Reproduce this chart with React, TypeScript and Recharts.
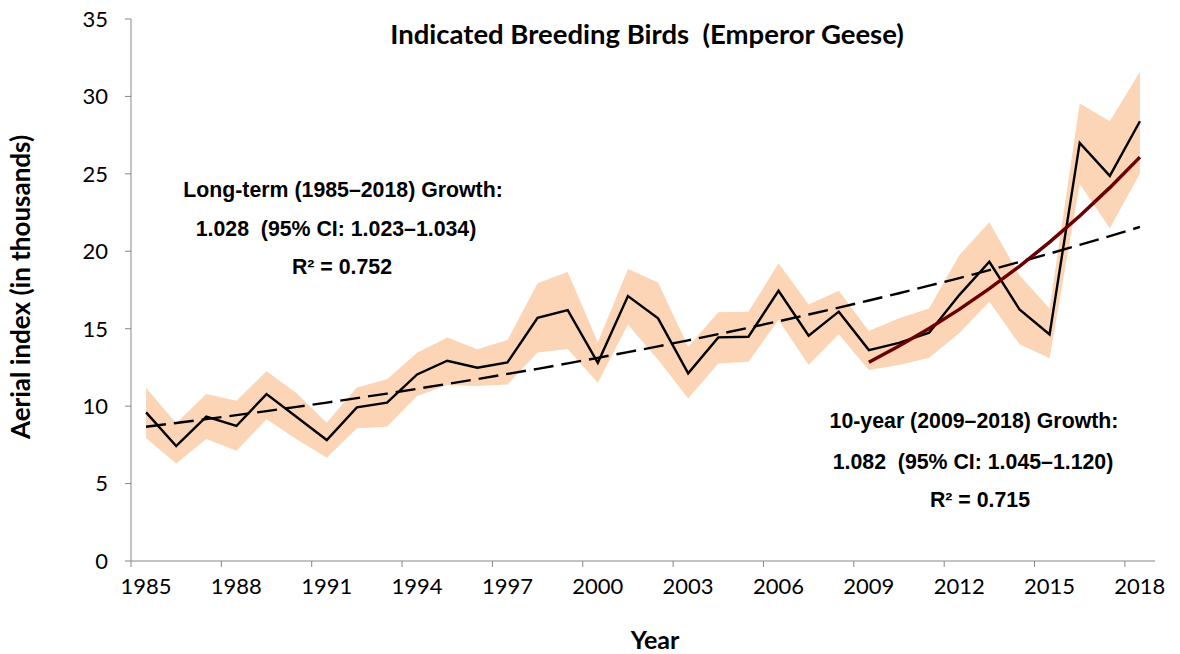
import { ComposedChart, Area, Line, XAxis, YAxis } from 'recharts'

const years = [
  1985, 1986, 1987, 1988, 1989, 1990, 1991, 1992, 1993, 1994, 1995, 1996,
  1997, 1998, 1999, 2000, 2001, 2002, 2003, 2004, 2005, 2006, 2007, 2008,
  2009, 2010, 2011, 2012, 2013, 2014, 2015, 2016, 2017, 2018,
]

// aerial index, thousands of birds
const aerialIndex = [
  9.6, 7.42, 9.32, 8.72, 10.78, 9.3, 7.81, 9.92, 10.22, 12.05, 12.93, 12.48,
  12.83, 15.71, 16.2, 12.8, 17.11, 15.67, 12.12, 14.44, 14.48, 17.45, 14.55, 16.1,
  13.62, 14.09, 14.74, 17.17, 19.32, 16.25, 14.63, 27.0, 24.87, 28.4,
]

// 95% CI band
const ciLower = [
  7.92, 6.3, 7.88, 7.12, 9.15, 7.86, 6.67, 8.57, 8.67, 10.65, 11.36, 11.3,
  11.4, 13.47, 13.69, 11.51, 15.28, 13.0, 10.5, 12.76, 12.87, 15.56, 12.65, 14.65,
  12.33, 12.65, 13.13, 14.7, 16.74, 13.99, 13.09, 24.34, 21.48, 25.03,
]
const ciUpper = [
  11.19, 8.9, 10.78, 10.35, 12.25, 10.83, 8.93, 11.21, 11.73, 13.45, 14.44, 13.67,
  14.27, 17.93, 18.66, 14.12, 18.85, 17.99, 13.84, 16.06, 16.1, 19.22, 16.57, 17.45,
  14.85, 15.67, 16.31, 19.75, 21.87, 18.46, 16.31, 29.55, 28.4, 31.59,
]

// long-term trend (dashed) and 10-year trend (red)
const longTrend = [
  8.67, 8.91, 9.16, 9.42, 9.68, 9.95, 10.23, 10.52, 10.81, 11.12, 11.43, 11.75,
  12.08, 12.41, 12.76, 13.12, 13.49, 13.86, 14.25, 14.65, 15.06, 15.48, 15.92, 16.36,
  16.82, 17.29, 17.78, 18.27, 18.78, 19.31, 19.85, 20.41, 20.98, 21.57,
]
const recentTrend = [
  null, null, null, null, null, null, null, null, null, null, null, null,
  null, null, null, null, null, null, null, null, null, null, null, null,
  12.83, 13.88, 15.02, 16.25, 17.59, 19.03, 20.59, 22.28, 24.11, 26.08,
]

const yearTicks = [1985, 1988, 1991, 1994, 1997, 2000, 2003, 2006, 2009, 2012, 2015, 2018]
const valueTicks = [0, 5, 10, 15, 20, 25, 30, 35]

const data = years.map((year, i) => ({
  year,
  index: aerialIndex[i],
  band: [ciLower[i], ciUpper[i]],
  trend: longTrend[i],
  recent: recentTrend[i],
}))

const AXIS = '#888888'
const FONT = 'Lato, Carlito, Calibri, sans-serif'
const NOTE = "'Liberation Sans', Arial, sans-serif"

// tick marks sit between categories, labels in the middle of the category
function YearTick(props: any) {
  const { x, y, payload } = props
  return (
    <text x={x + 15} y={y} dy="0.71em" textAnchor="middle" fontFamily={FONT} fontSize={22} fill="#000">
      {payload.value + 0.5}
    </text>
  )
}

export default function App() {
  return (
    <div style={{ position: 'absolute', left: 0, top: 0, width: 1180, height: 654, background: '#fff' }}>
      <ComposedChart
        width={1180}
        height={654}
        data={data}
        margin={{ top: 19, right: 25, bottom: 63, left: 71 }}
      >
        <XAxis
          dataKey="year"
          type="number"
          domain={[1984.5, 2018.5]}
          ticks={yearTicks.map(y => y - 0.5)}
          height={30}
          stroke={AXIS}
          tickLine={{ stroke: AXIS }}
          tickSize={6}
          tickMargin={11}
          tick={<YearTick />}
        />
        <YAxis
          type="number"
          domain={[0, 35]}
          ticks={valueTicks}
          width={60}
          stroke={AXIS}
          tickLine={{ stroke: AXIS }}
          tickSize={6}
          tickMargin={17}
          tick={{ fill: '#000', fontSize: 22, fontFamily: FONT }}
        />
        <Area
          dataKey="band"
          type="linear"
          stroke="none"
          fill="#FBD5B5"
          fillOpacity={1}
          isAnimationActive={false}
        />
        <Line
          dataKey="trend"
          type="linear"
          stroke="#000"
          strokeWidth={2.4}
          strokeDasharray="20 8"
          dot={false}
          isAnimationActive={false}
        />
        <Line
          dataKey="index"
          type="linear"
          stroke="#000"
          strokeWidth={2.4}
          dot={false}
          isAnimationActive={false}
        />
        <Line
          dataKey="recent"
          type="linear"
          stroke="#6A0000"
          strokeWidth={3.5}
          dot={false}
          connectNulls={false}
          isAnimationActive={false}
        />
      </ComposedChart>
      <svg
        width={1180}
        height={654}
        style={{ position: 'absolute', left: 0, top: 0, pointerEvents: 'none' }}
      >
        <text x={647} y={33} textAnchor="middle" dominantBaseline="central" fontFamily={FONT} fontWeight="bold" fontSize={27.5} fill="#000">
          {'Indicated Breeding Birds \u00A0(Emperor Geese)'}
        </text>
        <g fontFamily={NOTE} fontWeight="bold" fontSize={21.3} fill="#000" textAnchor="middle">
          <text x={343} y={190} dominantBaseline="central">Long-term (1985–2018) Growth:</text>
          <text x={336} y={229} dominantBaseline="central">{'1.028 \u00A0(95% CI: 1.023–1.034)'}</text>
          <text x={342} y={267} dominantBaseline="central">R² = 0.752</text>
          <text x={974} y={421} dominantBaseline="central">10-year (2009–2018) Growth:</text>
          <text x={973} y={462} dominantBaseline="central">{'1.082 \u00A0(95% CI: 1.045–1.120)'}</text>
          <text x={980} y={500} dominantBaseline="central">R² = 0.715</text>
        </g>
        <text
          x={20}
          y={287}
          transform="rotate(-90 20 287)"
          textAnchor="middle"
          dominantBaseline="central"
          fontFamily={FONT}
          fontWeight="bold"
          fontSize={26}
          fill="#000"
        >
          Aerial index (in thousands)
        </text>
        <text x={655} y={639} textAnchor="middle" dominantBaseline="central" fontFamily={FONT} fontWeight="bold" fontSize={25} fill="#000">
          Year
        </text>
      </svg>
    </div>
  )
}
